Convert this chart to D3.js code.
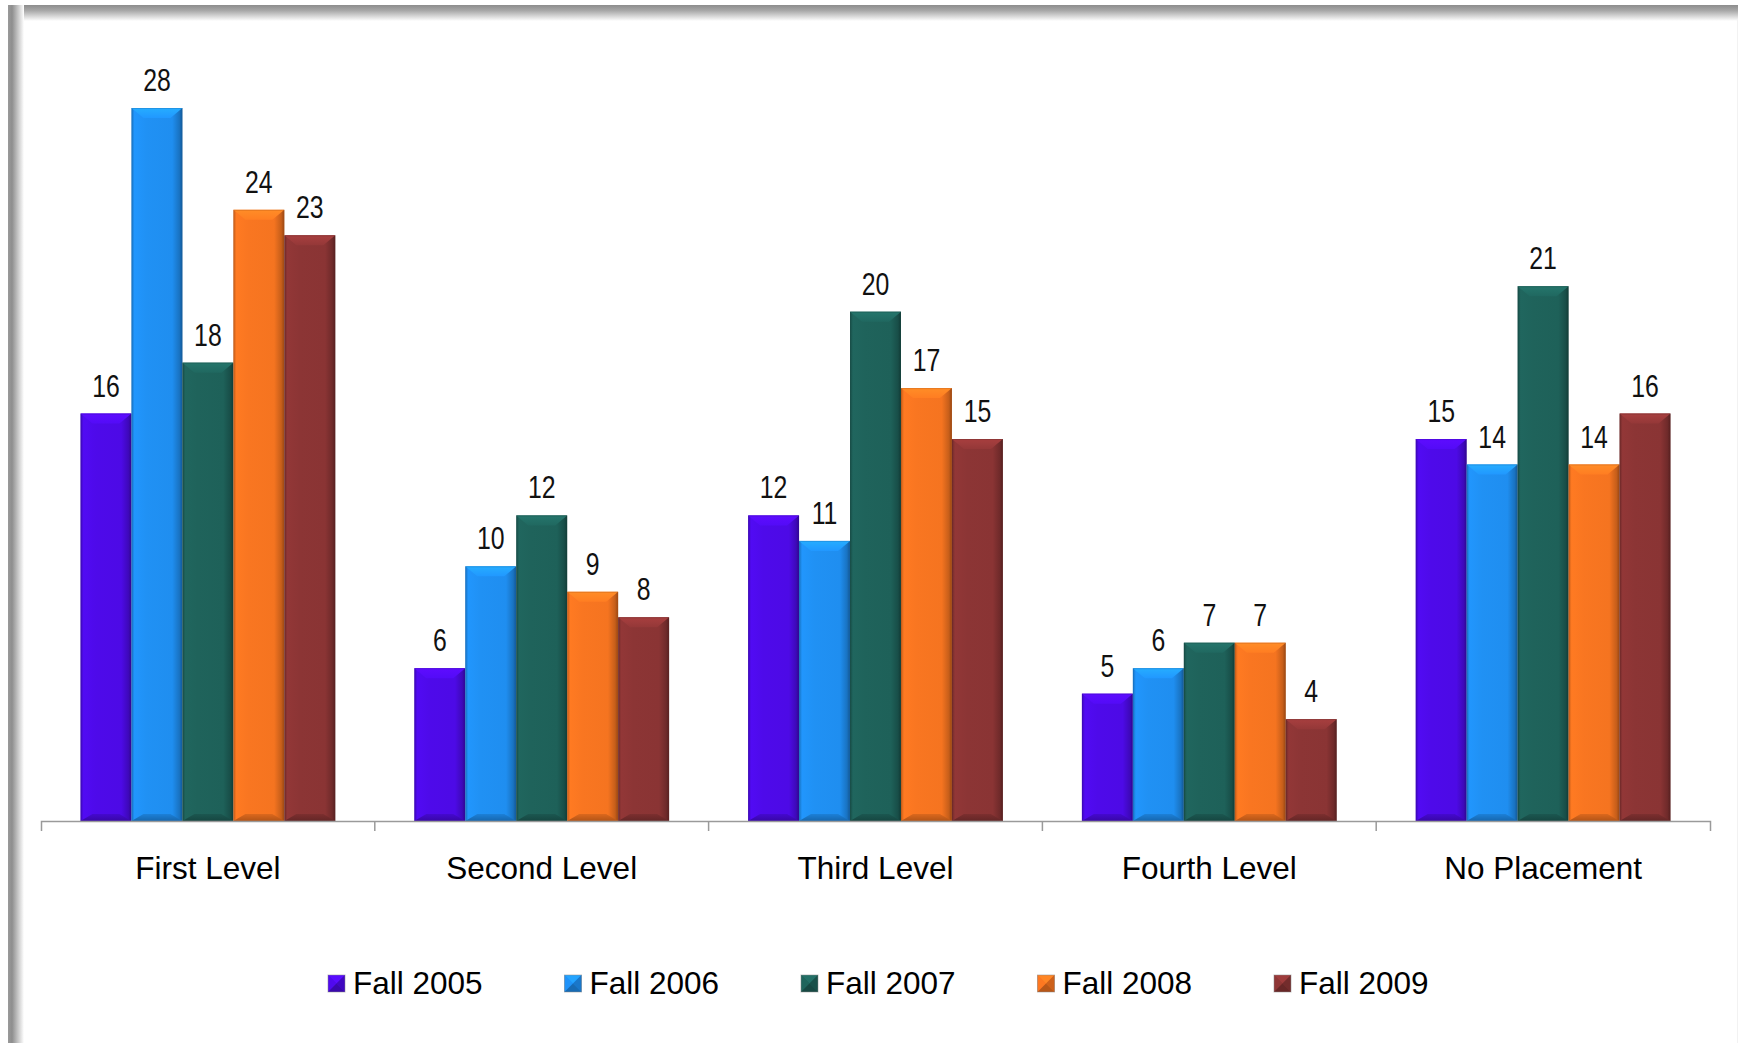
<!DOCTYPE html>
<html>
<head>
<meta charset="utf-8">
<script src="https://cdn.jsdelivr.net/npm/d3@7/dist/d3.min.js"></script>
<style>
  html, body { margin: 0; padding: 0; background: #ffffff; }
  svg { display: block; }
</style>
</head>
<body>
<svg id="chart" width="1741" height="1043"></svg>
<script>
// ---- data ----
const categories = ["First Level", "Second Level", "Third Level", "Fourth Level", "No Placement"];
const seriesNames = ["Fall 2005", "Fall 2006", "Fall 2007", "Fall 2008", "Fall 2009"];
const fall2005 = [16, 6, 12, 5, 15];
const fall2006 = [28, 10, 11, 6, 14];
const fall2007 = [18, 12, 20, 7, 21];
const fall2008 = [24, 9, 17, 7, 14];
const fall2009 = [23, 8, 15, 4, 16];
const seriesColors = ["#4d0ae6", "#1f8ef0", "#1e6159", "#f57420", "#8a3434"];

const seriesValues = [fall2005, fall2006, fall2007, fall2008, fall2009];
const rows = categories.map((c, i) => ({
  category: c,
  values: seriesNames.map((s, j) => ({ series: s, idx: j, value: seriesValues[j][i] }))
}));

// ---- layout ----
const W = 1741, H = 1043;
const baseY = 821;
const svg = d3.select("#chart");
const defs = svg.append("defs");

// frame gradients
const gTop = defs.append("linearGradient").attr("id", "frameTop").attr("x1", 0).attr("y1", 0).attr("x2", 0).attr("y2", 1);
gTop.append("stop").attr("offset", "0%").attr("stop-color", "#8c8c8c");
gTop.append("stop").attr("offset", "35%").attr("stop-color", "#a8a8a8");
gTop.append("stop").attr("offset", "100%").attr("stop-color", "#ffffff");
const gLeft = defs.append("linearGradient").attr("id", "frameLeft").attr("x1", 0).attr("y1", 0).attr("x2", 1).attr("y2", 0);
gLeft.append("stop").attr("offset", "0%").attr("stop-color", "#9a9a9a");
gLeft.append("stop").attr("offset", "25%").attr("stop-color", "#8e8e8e");
gLeft.append("stop").attr("offset", "100%").attr("stop-color", "#ffffff");

svg.append("rect").attr("x", 0).attr("y", 0).attr("width", W).attr("height", H).attr("fill", "#ffffff");
svg.append("rect").attr("x", 8).attr("y", 5).attr("width", 1730).attr("height", 16).attr("fill", "url(#frameTop)");
svg.append("rect").attr("x", 8).attr("y", 5).attr("width", 16).attr("height", H - 5).attr("fill", "url(#frameLeft)");
svg.append("line").attr("x1", 1737.5).attr("x2", 1737.5).attr("y1", 20).attr("y2", H).attr("stroke", "#f2f2f2").attr("stroke-width", 1);

// scales
const x0 = d3.scaleBand().domain(categories).range([41, 1710]).paddingInner(0).paddingOuter(0);
const x1 = d3.scaleBand().domain(seriesNames).range([0, x0.bandwidth()]).paddingInner(0).paddingOuter(0.775);
const y = d3.scaleLinear().domain([0, 28]).range([baseY, 108]);

// bar gradients per series
seriesColors.forEach((col, j) => {
  const c = d3.color(col);
  const g = defs.append("linearGradient").attr("id", "barH" + j).attr("x1", 0).attr("y1", 0).attr("x2", 1).attr("y2", 0);
  g.append("stop").attr("offset", "0%").attr("stop-color", c.darker(0.6));
  g.append("stop").attr("offset", "6%").attr("stop-color", c.brighter(0.15));
  g.append("stop").attr("offset", "30%").attr("stop-color", c.brighter(0.05));
  g.append("stop").attr("offset", "80%").attr("stop-color", c);
  g.append("stop").attr("offset", "94%").attr("stop-color", c.darker(0.6));
  g.append("stop").attr("offset", "100%").attr("stop-color", c.darker(1.4));
  const t = defs.append("linearGradient").attr("id", "barT" + j).attr("x1", 0).attr("y1", 0).attr("x2", 0).attr("y2", 1);
  t.append("stop").attr("offset", "0%").attr("stop-color", c.brighter(0.55));
  t.append("stop").attr("offset", "100%").attr("stop-color", c.brighter(0.2));
  const b = defs.append("linearGradient").attr("id", "barB" + j).attr("x1", 0).attr("y1", 0).attr("x2", 0).attr("y2", 1);
  b.append("stop").attr("offset", "0%").attr("stop-color", c.darker(0.3));
  b.append("stop").attr("offset", "100%").attr("stop-color", c.darker(0.9));
});

// bars
const groups = svg.append("g").selectAll("g.cat").data(rows).join("g")
  .attr("class", "cat")
  .attr("transform", d => `translate(${x0(d.category)},0)`);

const bars = groups.selectAll("g.bar").data(d => d.values).join("g").attr("class", "bar");
bars.each(function(d) {
  const g = d3.select(this);
  const bx = x1(d.series), bw = x1.bandwidth();
  const top = y(d.value), h = baseY - top;
  const c = d3.color(seriesColors[d.idx]);
  g.append("rect").attr("x", bx).attr("y", top).attr("width", bw).attr("height", h)
    .attr("fill", `url(#barH${d.idx})`);
  const bev = 10, ins = 12;
  g.append("path")
    .attr("d", `M${bx},${top} L${bx + bw},${top} L${bx + bw - ins},${top + bev} L${bx + ins},${top + bev} Z`)
    .attr("fill", `url(#barT${d.idx})`);
  const bb = 7;
  g.append("path")
    .attr("d", `M${bx},${baseY} L${bx + bw},${baseY} L${bx + bw - ins},${baseY - bb} L${bx + ins},${baseY - bb} Z`)
    .attr("fill", `url(#barB${d.idx})`);
  g.append("rect").attr("x", bx + 0.5).attr("y", top + 0.5).attr("width", bw - 1).attr("height", h - 1)
    .attr("fill", "none").attr("stroke", c.darker(0.8)).attr("stroke-opacity", 0.35).attr("stroke-width", 1);
});

// value labels (narrow look via horizontal scaling)
bars.append("text")
  .attr("transform", d => `translate(${x1(d.series) + x1.bandwidth() / 2},${y(d.value) - 17}) scale(0.8,1)`)
  .attr("text-anchor", "middle")
  .attr("font-family", "'Liberation Sans', Arial, sans-serif")
  .attr("font-size", "31px")
  .attr("fill", "#111111")
  .text(d => d.value);

// axis
const axis = d3.axisBottom(x0).tickSize(0).tickSizeOuter(10).tickPadding(0);
const ax = svg.append("g").attr("transform", `translate(0,${baseY})`).call(axis);
ax.select(".domain").attr("stroke", "#9a9a9a").attr("stroke-width", 1.5);
ax.selectAll(".tick text")
  .attr("y", 58).attr("dy", null)
  .attr("font-family", "'Liberation Sans', Arial, sans-serif")
  .attr("font-size", "31.5px")
  .attr("fill", "#000000");
ax.selectAll("line.boundary").data(categories.slice(1)).join("line")
  .attr("class", "boundary")
  .attr("x1", d => x0(d)).attr("x2", d => x0(d))
  .attr("y1", 0).attr("y2", 10)
  .attr("stroke", "#9a9a9a").attr("stroke-width", 1.5);

// legend
const legend = svg.append("g");
const li = legend.selectAll("g").data(seriesNames).join("g")
  .attr("transform", (d, i) => `translate(${328 + i * 236.5},975)`);
li.each(function(d, i) {
  const g = d3.select(this);
  const c = d3.color(seriesColors[i]);
  const s = 17;
  g.append("rect").attr("width", s).attr("height", s).attr("fill", c);
  g.append("path").attr("d", `M0,0 L${s},0 L${s/2},${s/2} Z`).attr("fill", c.brighter(0.4));
  g.append("path").attr("d", `M0,0 L0,${s} L${s/2},${s/2} Z`).attr("fill", c.brighter(0.1));
  g.append("path").attr("d", `M${s},0 L${s},${s} L${s/2},${s/2} Z`).attr("fill", c.darker(0.5));
  g.append("path").attr("d", `M0,${s} L${s},${s} L${s/2},${s/2} Z`).attr("fill", c.darker(0.8));
  g.append("rect").attr("width", s).attr("height", s).attr("fill", "none").attr("stroke", "#888").attr("stroke-opacity", 0.5);
  g.append("text").attr("x", 25).attr("y", 19)
    .attr("font-family", "'Liberation Sans', Arial, sans-serif")
    .attr("font-size", "31.5px").attr("fill", "#000")
    .text(d);
});
</script>
</body>
</html>
